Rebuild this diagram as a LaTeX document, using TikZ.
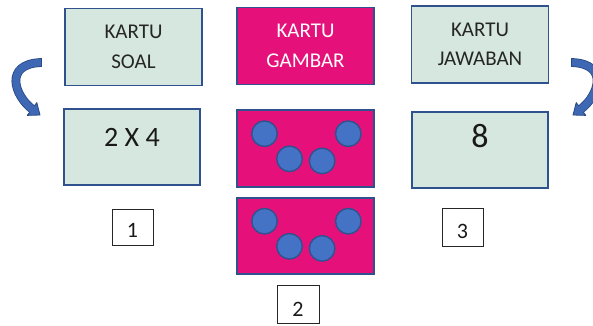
\documentclass[tikz,border=0pt]{standalone}
\usepackage{fontspec}
\setmainfont{Carlito}
\definecolor{cardgreen}{RGB}{214,231,224}
\definecolor{cardborder}{RGB}{47,82,143}
\definecolor{cardpink}{RGB}{230,16,122}
\definecolor{dotblue}{RGB}{68,114,196}
\definecolor{arrowblue}{RGB}{62,104,180}
\definecolor{arrowedge}{RGB}{40,72,130}
\begin{document}
\begin{tikzpicture}[x=1pt,y=-1pt,
  card/.style={draw=cardborder, line width=1.6pt, inner sep=0pt, minimum width=137pt, minimum height=77pt,
    align=center, font=\fontsize{21}{29.5}\selectfont},
  greencard/.style={card, fill=cardgreen, text=black!85},
  pinkcard/.style={card, fill=cardpink, text=white},
  numbox/.style={draw=black!85, line width=0.8pt, inner sep=0pt, minimum width=41pt, minimum height=37pt},
  numtext/.style={anchor=base, inner sep=0pt, font=\fontsize{22}{26}\selectfont, text=black!90},
  dot/.style={circle, draw=cardborder, fill=dotblue, line width=1.4pt, minimum size=25.5pt, inner sep=0pt},
  curvarrow/.pic={
    \draw[arrowedge, line width=8.8pt] (41.8,62.5) -- (41,62.5) .. controls (4,64) and (14,95) .. (32,109);
    \filldraw[fill=arrowblue, draw=arrowedge, line width=0.8pt, line join=round]
      (36.8,102.6) -- (40,115) -- (27.2,115.4) -- cycle;
    \draw[arrowblue, line width=7.2pt] (41,62.5) .. controls (4,64) and (14,95) .. (32,109) -- (33.6,110.2);
  }
]
\useasboundingbox (0,0) rectangle (593,325);

% top row
\node[greencard] (soal) at (133.5,47) {KARTU\\SOAL};
\node[pinkcard] (gambar) at (305.5,46) {KARTU\\GAMBAR};
\node[greencard] (jawaban) at (480,44.5) {KARTU\\JAWABAN};

% middle row
\node[greencard, minimum width=136pt, minimum height=76pt] (kali) at (132,147) {};
\node[numtext, font=\fontsize{28}{32}\selectfont] (kalitext) at ([yshift=1pt]kali.center) {2 X 4};
\node[pinkcard] (g1) at (305.5,148.5) {};
\node[pinkcard, minimum height=76pt] (g2) at (305.5,236) {};
\node[greencard, minimum width=136pt, minimum height=76pt] (delapan) at (480,150) {};
\node[numtext, font=\fontsize{34}{38}\selectfont] (delapantext) at ([yshift=3pt]delapan.center) {8};

% dots
\foreach \g in {g1,g2}{
  \node[dot] (\g a) at ([shift={(-41,-14.8)}]\g.center) {};
  \node[dot] (\g b) at ([shift={(-16,10.3)}]\g.center) {};
  \node[dot] (\g c) at ([shift={(16.6,12.4)}]\g.center) {};
  \node[dot] (\g d) at ([shift={(42.8,-14.8)}]\g.center) {};
}

% number boxes
\node[numbox, minimum height=36pt] (n1) at (132.5,227) {};
\node[numtext] (t1) at ([shift={(0,10.3)}]n1.center) {1};
\node[numbox, minimum width=42pt, minimum height=38pt] (n2) at (298,304) {};
\node[numtext] (t2) at ([shift={(0,12.7)}]n2.center) {2};
\node[numbox, minimum height=38pt] (n3) at (462.5,227) {};
\node[numtext] (t3) at ([shift={(0,11)}]n3.center) {3};

% curved arrows
\pic at (0,0) {curvarrow};
\pic[xscale=-1] at (613,0) {curvarrow};
\end{tikzpicture}
\end{document}
